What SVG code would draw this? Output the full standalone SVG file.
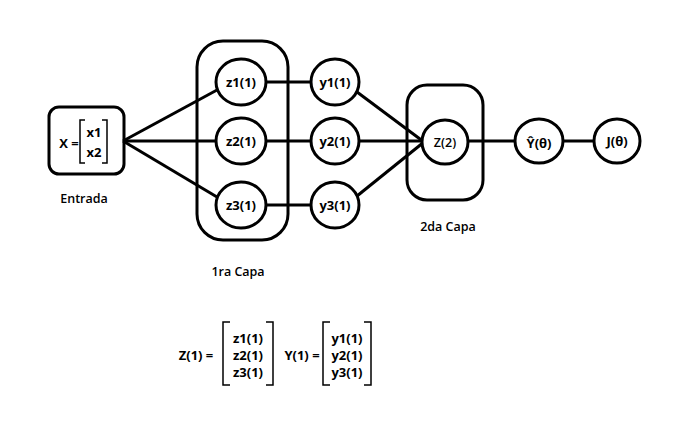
<svg xmlns="http://www.w3.org/2000/svg" width="699" height="436" viewBox="0 0 699 436">
<style>
.s{fill:none;stroke:#000;stroke-width:3}
.n{fill:#fff;stroke:#000;stroke-width:3}
.t{font-family:"Open Sans","Liberation Sans",sans-serif;font-weight:700;font-size:13px;fill:#000;text-anchor:middle;dominant-baseline:central}
.l{font-family:"Open Sans","Liberation Sans",sans-serif;font-weight:600;font-size:12.5px;fill:#000;text-anchor:middle;dominant-baseline:central}
.b{fill:none;stroke:#000;stroke-width:1.5}
</style>
<rect width="699" height="436" fill="#fff"/>
<g id="capa1"><rect class="s" x="197" y="41" width="91" height="199" rx="26"/></g>
<g id="capa2"><rect class="s" x="407" y="85" width="76" height="115" rx="20"/></g>
<g id="connectors" stroke="#000" stroke-width="3" fill="none">
<line x1="123" y1="141" x2="217" y2="90"/>
<line x1="123" y1="141" x2="216" y2="141"/>
<line x1="123" y1="141" x2="217" y2="197"/>
<line x1="267" y1="82" x2="311" y2="82"/>
<line x1="267" y1="141" x2="311" y2="141"/>
<line x1="267" y1="205" x2="311" y2="205"/>
<line x1="357" y1="92" x2="424" y2="142"/>
<line x1="359" y1="141" x2="423" y2="141"/>
<line x1="357" y1="196" x2="424" y2="142"/>
<line x1="467" y1="141" x2="516" y2="141"/>
<line x1="562" y1="141" x2="595" y2="141"/>
</g>
<g id="entrada">
<rect class="s" x="49" y="107" width="75" height="67" rx="10"/>
<text class="t" x="69" y="143">X =</text>
<path class="b" d="M85,120 H80 V163 H85 M102,120 H107 V163 H102"/>
<text class="t" x="94" y="132">x1</text>
<text class="t" x="94" y="152">x2</text>
</g>
<g id="z1"><ellipse class="n" cx="241" cy="82" rx="25" ry="23"/><text class="t" x="241" y="82">z1(1)</text></g>
<g id="z2"><ellipse class="n" cx="241" cy="141" rx="25" ry="23"/><text class="t" x="241" y="141">z2(1)</text></g>
<g id="z3"><ellipse class="n" cx="241" cy="205" rx="25" ry="23"/><text class="t" x="241" y="205">z3(1)</text></g>
<g id="y1"><ellipse class="n" cx="335" cy="82" rx="24" ry="23"/><text class="t" x="335" y="82">y1(1)</text></g>
<g id="y2"><ellipse class="n" cx="335" cy="141" rx="24" ry="23"/><text class="t" x="335" y="141">y2(1)</text></g>
<g id="y3"><ellipse class="n" cx="335" cy="205" rx="24" ry="23"/><text class="t" x="335" y="205">y3(1)</text></g>
<g id="z2node"><ellipse class="n" cx="445" cy="142" rx="23" ry="22"/><text class="l" x="445" y="142">Z(2)</text></g>
<g id="yhat"><ellipse class="n" cx="539" cy="141" rx="24" ry="22"/><text class="t" x="539" y="143">Ŷ(θ)</text></g>
<g id="j"><ellipse class="n" cx="617" cy="141" rx="23" ry="22"/><text class="t" x="617" y="141">J(θ)</text></g>
<text class="l" x="84" y="198">Entrada</text>
<text class="l" x="238" y="271">1ra Capa</text>
<text class="l" x="448" y="226">2da Capa</text>
<g id="eqZ">
<text class="t" x="196" y="355">Z(1) =</text>
<path class="b" d="M230,322 H223 V385 H230 M266,322 H273 V385 H266"/>
<text class="t" x="248" y="338">z1(1)</text>
<text class="t" x="248" y="355">z2(1)</text>
<text class="t" x="248" y="372">z3(1)</text>
</g>
<g id="eqY">
<text class="t" x="302" y="355">Y(1) =</text>
<path class="b" d="M330,322 H323 V385 H330 M364,322 H371 V385 H364"/>
<text class="t" x="347" y="338">y1(1)</text>
<text class="t" x="347" y="355">y2(1)</text>
<text class="t" x="347" y="372">y3(1)</text>
</g>
</svg>
